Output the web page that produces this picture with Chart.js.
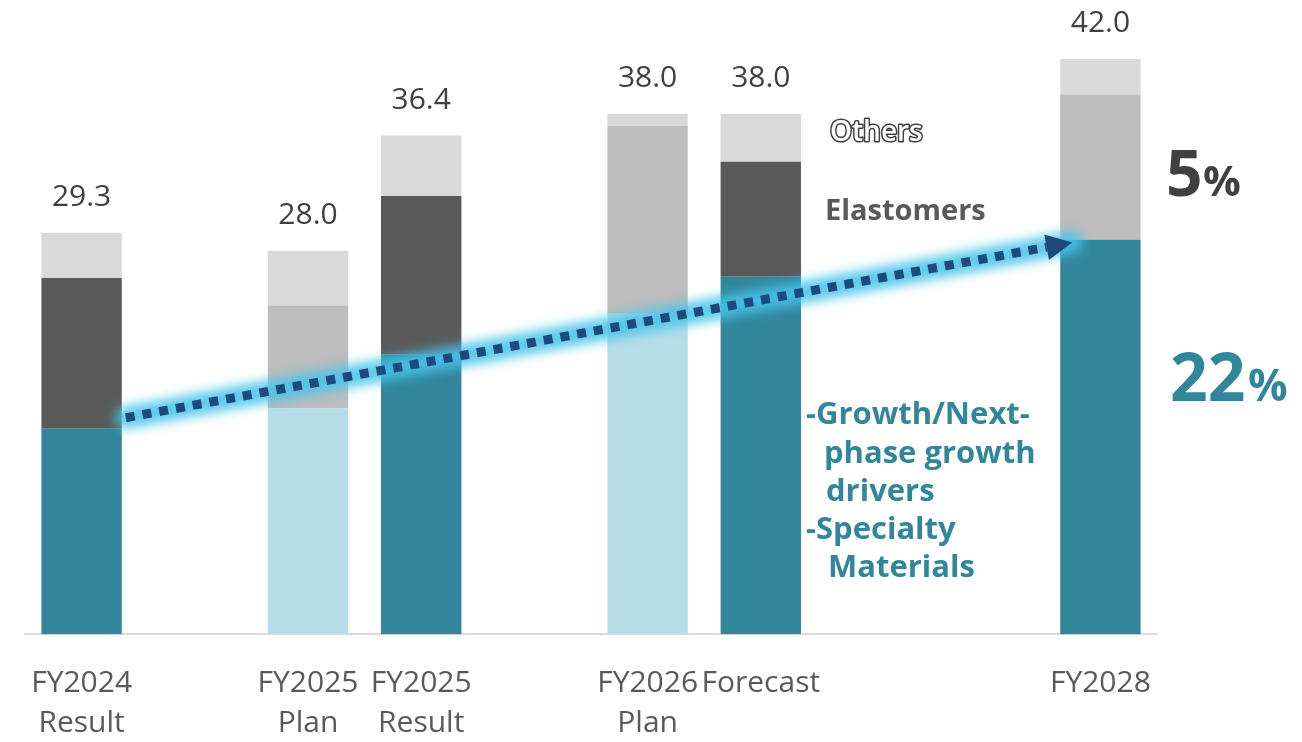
<!DOCTYPE html>
<html>
<head>
<meta charset="utf-8">
<script src="https://cdn.jsdelivr.net/npm/chart.js@4"></script>
<style>
  html, body { margin: 0; padding: 0; background: #fff; overflow: hidden; }
  #wrap { width: 1302px; height: 742px; position: relative; overflow: hidden; }
</style>
</head>
<body>
<div id="wrap"><canvas id="meuGrafico" width="1302" height="772"></canvas></div>
<script>
// categories (empty strings are gaps between groups)
var categorias = [["FY2024", "Result"], "", ["FY2025", "Plan"], ["FY2025", "Result"], "", ["FY2026", "Plan"], "Forecast", "", "", "FY2028"];
var crescimento = [15.0, null, 16.5, 20.4, null, 23.4, 26.1, null, null, 28.8];
var elastomeros = [11.0, null, 7.5, 11.6, null, 13.7, 8.4, null, null, 10.6];
var outros = [3.3, null, 4.0, 4.4, null, 0.9, 3.5, null, null, 2.6];
var totais = ["29.3", null, "28.0", "36.4", null, "38.0", "38.0", null, null, "42.0"];
var ehPlano = [false, false, true, false, false, true, false, false, false, false];
// arrow from bar 0 to bar 9
var setaDe = { idx: 0, valor: 15.8 };
var setaPara = { idx: 9, valor: 28.6 };

var TEAL = "#31869b", AZUL_CLARO = "#b7dee8";
var CINZA_ESC = "#595959", CINZA_MED = "#bdbdbd", CINZA_CLARO = "#d9d9d9";
var FONTE = "'Segoe UI', 'Open Sans', sans-serif";

var coresCresc = ehPlano.map(function (p) { return p ? AZUL_CLARO : TEAL; });
var coresElast = ehPlano.map(function (p, i) { return (p || i === 9) ? CINZA_MED : CINZA_ESC; });

var pluginExtras = {
    id: "extras",
    afterDatasetsDraw: function (chart) {
        var c = chart.ctx;
        var xs = chart.scales.x, ys = chart.scales.y;
        var meta = chart.getDatasetMeta(0);

        // totals above stacks
        c.save();
        c.font = "30px " + FONTE;
        c.fillStyle = "#404040";
        c.textAlign = "center";
        c.textBaseline = "bottom";
        for (var i = 0; i < totais.length; i++) {
            if (!totais[i]) continue;
            var topo = ys.getPixelForValue(parseFloat(totais[i]));
            c.fillText(totais[i], xs.getPixelForValue(i), topo - 20);
        }
        c.restore();

        // glowing dotted arrow
        var b0 = meta.data[setaDe.idx], b9 = meta.data[setaPara.idx];
        var x1 = b0.x + b0.width / 2 + 4, y1 = ys.getPixelForValue(setaDe.valor);
        var x2 = b9.x - b9.width / 2 + 12, y2 = ys.getPixelForValue(setaPara.valor);
        c.save();
        c.filter = "blur(6px)";
        c.strokeStyle = "rgba(70, 196, 234, 0.9)";
        c.lineWidth = 22;
        c.lineCap = "round";
        c.beginPath();
        c.moveTo(x1, y1);
        c.lineTo(x2, y2);
        c.stroke();
        c.restore();

        var ang = Math.atan2(y2 - y1, x2 - x1);
        var cabeca = 26;
        c.save();
        c.strokeStyle = "#1f497d";
        c.lineWidth = 9;
        c.setLineDash([9, 8]);
        c.beginPath();
        c.moveTo(x1, y1);
        c.lineTo(x2 - cabeca * Math.cos(ang), y2 - cabeca * Math.sin(ang));
        c.stroke();
        c.setLineDash([]);
        c.fillStyle = "#1f497d";
        c.translate(x2, y2);
        c.rotate(ang);
        c.beginPath();
        c.moveTo(0, 0);
        c.lineTo(-cabeca, -13);
        c.lineTo(-cabeca, 13);
        c.closePath();
        c.fill();
        c.restore();

        // text annotations
        c.save();
        c.textBaseline = "middle";
        c.textAlign = "left";
        c.font = "600 28px " + FONTE;
        c.lineWidth = 3;
        c.lineJoin = "round";
        c.strokeStyle = "#404040";
        c.strokeText("Others", 830, 133);
        c.fillStyle = "#fff";
        c.fillText("Others", 830, 133);

        c.font = "bold 29px " + FONTE;
        c.fillStyle = CINZA_ESC;
        c.fillText("Elastomers", 825, 212);

        c.fillStyle = "#404040";
        c.font = "bold 64px " + FONTE;
        c.fillText("5", 1166, 178);
        c.font = "bold 42px " + FONTE;
        c.fillText("%", 1203, 184);

        c.fillStyle = TEAL;
        c.font = "bold 66px " + FONTE;
        c.fillText("22", 1170, 382);
        c.font = "bold 44px " + FONTE;
        c.fillText("%", 1248, 388);

        c.font = "bold 31px " + FONTE;
        var linhas = [["-Growth/Next-", 806, 415], ["phase growth", 824, 454], ["drivers", 826, 492], ["-Specialty", 806, 530], ["Materials", 828, 568]];
        linhas.forEach(function (l) { c.fillText(l[0], l[1], l[2]); });
        c.restore();
    }
};

new Chart(document.getElementById("meuGrafico").getContext("2d"), {
    type: "bar",
    data: {
        labels: categorias,
        datasets: [
            { label: "Growth", data: crescimento, backgroundColor: coresCresc },
            { label: "Elastomers", data: elastomeros, backgroundColor: coresElast },
            { label: "Others", data: outros, backgroundColor: CINZA_CLARO }
        ]
    },
    options: {
        responsive: false,
        animation: false,
        layout: { padding: { left: 25, right: 145, top: 0, bottom: 0 } },
        datasets: { bar: { barPercentage: 0.71, categoryPercentage: 1.0, borderWidth: 0 } },
        plugins: { legend: { display: false }, tooltip: { enabled: false } },
        scales: {
            x: {
                stacked: true,
                grid: { display: false, drawTicks: false },
                border: { display: true, color: "#d9d9d9", width: 2 },
                ticks: {
                    autoSkip: false, maxRotation: 0, padding: 29,
                    color: "#595959",
                    font: { family: FONTE, size: 30, lineHeight: 1.33 }
                }
            },
            y: {
                stacked: true, display: false, min: 0, max: 46.3
            }
        }
    },
    plugins: [pluginExtras]
});
</script>
</body>
</html>
